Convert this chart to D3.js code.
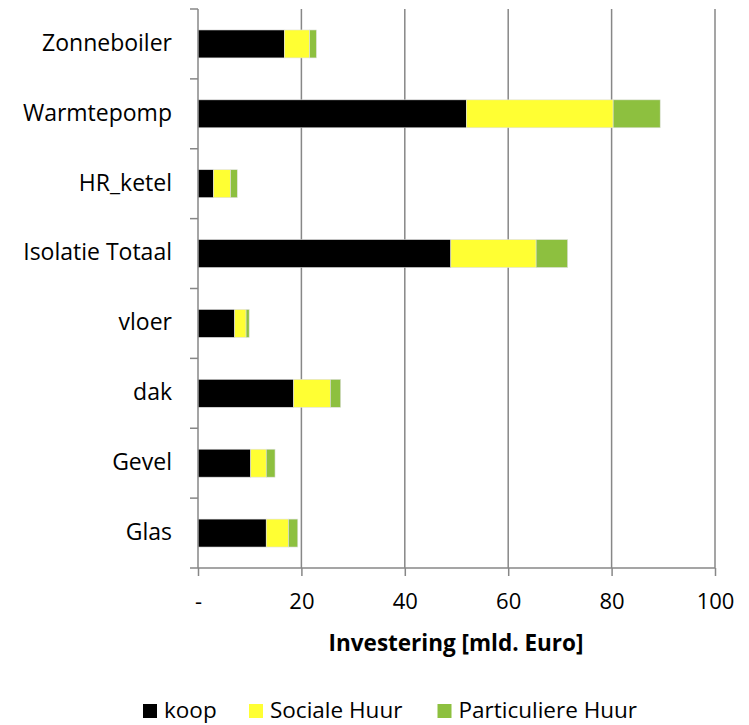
<!DOCTYPE html>
<html>
<head>
<meta charset="utf-8">
<script src="https://cdn.jsdelivr.net/npm/d3@7"></script>
<style>
  html, body { margin: 0; padding: 0; background: #fff; }
  svg { display: block; }
  text { font-family: "Open Sans", sans-serif; fill: #000; }
</style>
</head>
<body>
<svg id="chart" width="749" height="725"></svg>
<script>
const categories = ["Zonneboiler", "Warmtepomp", "HR_ketel", "Isolatie Totaal", "vloer", "dak", "Gevel", "Glas"];
const koop = [16.7, 51.9, 3.0, 48.9, 7.1, 18.5, 10.2, 13.2];
const socialeHuur = [4.9, 28.4, 3.3, 16.5, 2.2, 7.1, 3.0, 4.3];
const particuliereHuur = [1.3, 9.1, 1.3, 6.1, 0.6, 2.0, 1.7, 1.8];
const seriesNames = ["koop", "Sociale Huur", "Particuliere Huur"];
const seriesColors = ["#000000", "#FFFF33", "#8DC03F"];
const xTicks = [0, 20, 40, 60, 80, 100];
const xTitle = "Investering [mld. Euro]";

const svg = d3.select("#chart");
const mLeft = 198, mRight = 715, mTop = 9, mBottom = 568;
const FONT = "'Open Sans', sans-serif";

const x = d3.scaleLinear().domain([0, 100]).range([mLeft, mRight]);
const y = d3.scaleBand().domain(categories).range([mTop, mBottom]).paddingInner(0.6).paddingOuter(0.3);

const rows = categories.map((c, i) => ({cat: c, koop: koop[i], soc: socialeHuur[i], part: particuliereHuur[i]}));
const stacked = d3.stack().keys(["koop", "soc", "part"])(rows);

// gridlines
svg.append("g").selectAll("line").data(xTicks.filter(t => t > 0)).join("line")
  .attr("x1", d => x(d)).attr("x2", d => x(d))
  .attr("y1", mTop).attr("y2", mBottom)
  .attr("stroke", "#878787").attr("stroke-width", 1.5);

// bars
svg.append("g").selectAll("g").data(stacked).join("g")
  .attr("fill", (d, i) => seriesColors[i])
  .selectAll("rect").data(d => d).join("rect")
  .attr("x", d => x(d[0]))
  .attr("width", d => x(d[1]) - x(d[0]))
  .attr("y", d => y(d.data.cat))
  .attr("height", y.bandwidth())
  .attr("stroke", "#e0e0e0").attr("stroke-width", 0.6);

// y axis line and ticks
const gap = (y.step() - y.bandwidth()) / 2;
const yTickPos = categories.map(c => y(c) - gap).concat([y(categories[categories.length - 1]) + y.bandwidth() + gap]);
svg.append("line").attr("x1", mLeft).attr("x2", mLeft).attr("y1", mTop).attr("y2", mBottom)
  .attr("stroke", "#878787").attr("stroke-width", 1.5);
svg.append("g").selectAll("line").data(yTickPos).join("line")
  .attr("x1", mLeft - 8).attr("x2", mLeft).attr("y1", d => d).attr("y2", d => d)
  .attr("stroke", "#878787").attr("stroke-width", 1.5);

// category labels
svg.append("g").selectAll("text").data(categories).join("text")
  .attr("x", 172).attr("y", d => y(d) + y.bandwidth() / 2)
  .attr("dy", "0.3em")
  .attr("text-anchor", "end")
  .attr("font-size", 23).text(d => d);

// x axis
const xAxis = d3.axisBottom(x).tickValues(xTicks).tickSize(8).tickPadding(17)
  .tickFormat(d => d === 0 ? "-" : d3.format("d")(d));
const gx = svg.append("g").attr("transform", `translate(0,${mBottom})`).call(xAxis);
gx.select(".domain").attr("stroke", "#878787").attr("stroke-width", 1.5).attr("d", `M${mLeft},0H${mRight}`);
gx.selectAll(".tick line").attr("stroke", "#878787").attr("stroke-width", 1.5);
gx.selectAll(".tick text").attr("font-size", 22).attr("font-family", FONT).attr("fill", "#000");

// x title
svg.append("text").attr("x", 456).attr("y", 651)
  .attr("text-anchor", "middle").attr("font-size", 22.5).attr("font-weight", "bold").text(xTitle);

// legend
const legendX = [143, 249, 437.5];
const lg = svg.append("g").selectAll("g").data(seriesNames).join("g")
  .attr("transform", (d, i) => `translate(${legendX[i]},704)`);
lg.append("rect").attr("width", 14).attr("height", 14).attr("fill", (d, i) => seriesColors[i]);
lg.append("text").attr("x", 21).attr("y", 14)
  .attr("font-size", 22.5).text(d => d);
</script>
</body>
</html>
